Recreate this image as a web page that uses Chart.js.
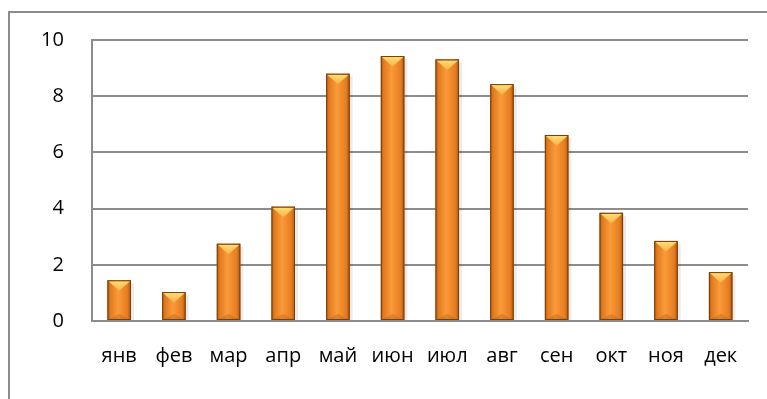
<!DOCTYPE html>
<html>
<head>
<meta charset="utf-8">
<script src="https://cdn.jsdelivr.net/npm/chart.js@4/dist/chart.umd.min.js"></script>
<style>
    html, body { margin: 0; padding: 0; background: #fff; }
    #wrap { width: 767px; height: 399px; }
</style>
</head>
<body>
<div id="wrap"><canvas id="myChart"></canvas></div>
<script>
// Данные по месяцам
const months = ['янв', 'фев', 'мар', 'апр', 'май', 'июн', 'июл', 'авг', 'сен', 'окт', 'ноя', 'дек'];
const values = [1.45, 1.03, 2.75, 4.07, 8.8, 9.43, 9.31, 8.43, 6.62, 3.85, 2.85, 1.74];
const yTicks = [0, 2, 4, 6, 8, 10];

const gridColor = '#8c8c8c';

// Рамка вокруг всей диаграммы
const framePlugin = {
    id: 'frame',
    beforeDraw(chart) {
        const c = chart.ctx;
        c.save();
        c.strokeStyle = '#8c8c8c';
        c.lineWidth = 2;
        c.strokeRect(9, 12, 820, 420);
        c.restore();
    }
};

// Объёмный вид столбцов
const bevelPlugin = {
    id: 'bevel',
    afterDatasetsDraw(chart) {
        const c = chart.ctx;
        const meta = chart.getDatasetMeta(0);
        meta.data.forEach(bar => {
            const w = bar.width;
            const left = bar.x - w / 2;
            const top = bar.y;
            const h = bar.base - bar.y;

            c.save();
            // тень справа
            c.fillStyle = 'rgba(0,0,0,0.08)';
            c.fillRect(left + w, top + 3, 3, h - 3);

            const g = c.createLinearGradient(left, 0, left + w, 0);
            g.addColorStop(0, '#b35d12');
            g.addColorStop(0.12, '#e07a1f');
            g.addColorStop(0.45, '#fb9a38');
            g.addColorStop(0.85, '#e57d22');
            g.addColorStop(1, '#a8560f');
            c.fillStyle = g;
            c.fillRect(left, top, w, h);

            // светлый треугольник сверху
            const th = Math.min(w * 0.45, h * 0.5);
            const tg = c.createLinearGradient(0, top, 0, top + th);
            tg.addColorStop(0, '#ffe27a');
            tg.addColorStop(1, '#fbb146');
            c.fillStyle = tg;
            c.beginPath();
            c.moveTo(left + 1, top + 1);
            c.lineTo(left + w - 1, top + 1);
            c.lineTo(bar.x, top + th);
            c.closePath();
            c.fill();

            // тёмный треугольник снизу
            c.fillStyle = 'rgba(150,70,10,0.25)';
            c.beginPath();
            c.moveTo(left + 1, bar.base);
            c.lineTo(left + w - 1, bar.base);
            c.lineTo(bar.x, bar.base - th * 0.6);
            c.closePath();
            c.fill();

            c.strokeStyle = '#7a3f0c';
            c.lineWidth = 1;
            c.strokeRect(left + 0.5, top + 0.5, w - 1, h - 1);
            c.restore();
        });
    }
};

const ctx = document.getElementById('myChart').getContext('2d');
const myChart = new Chart(ctx, {
    type: 'bar',
    data: {
        labels: months,
        datasets: [{
            data: values,
            backgroundColor: '#f28a2a',
            borderWidth: 0,
            barPercentage: 0.43,
            categoryPercentage: 1
        }]
    },
    options: {
        responsive: true,
        maintainAspectRatio: false,
        animation: false,
        layout: {
            padding: { left: 13, right: 19, top: 32, bottom: 8 }
        },
        plugins: {
            legend: { display: false },
            tooltip: { enabled: false }
        },
        scales: {
            x: {
                grid: { display: false, drawTicks: false },
                border: { display: true, color: gridColor, width: 2 },
                ticks: {
                    color: '#000',
                    padding: 23,
                    font: { family: 'Open Sans', size: 20 }
                }
            },
            y: {
                min: 0,
                max: 10,
                afterBuildTicks(axis) {
                    axis.ticks = yTicks.map(v => ({ value: v }));
                },
                grid: { color: gridColor, lineWidth: 2, drawTicks: false },
                border: { display: true, color: gridColor, width: 2 },
                ticks: {
                    color: '#000',
                    padding: 28,
                    font: { family: 'Open Sans', size: 20 }
                }
            }
        }
    },
    plugins: [framePlugin, bevelPlugin]
});
</script>
</body>
</html>
